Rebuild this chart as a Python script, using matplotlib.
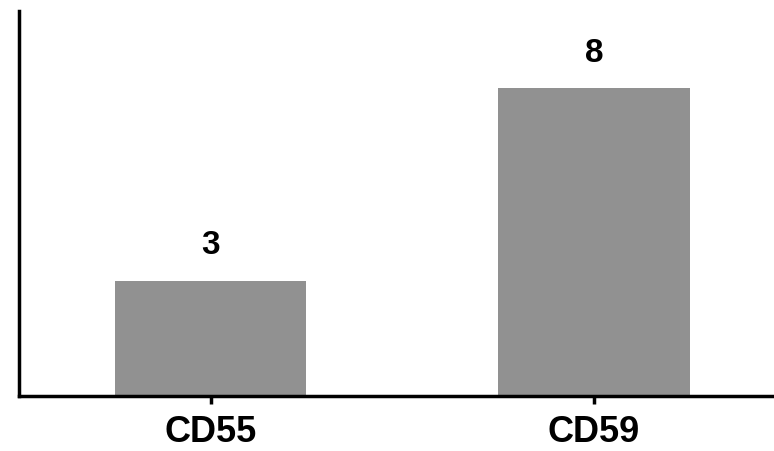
import matplotlib
matplotlib.use("Agg")
import matplotlib.pyplot as plt

# datos
categorias = ["CD55", "CD59"]
valores = [3, 8]

plt.rcParams['font.family'] = ['Liberation Sans', 'DejaVu Sans']

fig = plt.figure(figsize=(7.74, 4.51), dpi=100)
ax = fig.add_axes([19 / 774, 55 / 451, 755 / 774, 385 / 451])

x = list(range(len(categorias)))
ax.bar(x, valores, width=0.5, color="#919191", zorder=1)

# etiquetas encima de las barras
for xi, v in zip(x, valores):
    ax.annotate(str(v), (xi, v), xytext=(0, 14), textcoords="offset points",
                ha="center", va="bottom", fontsize=24, fontweight="bold")

ax.set_xlim(-0.5, 1.47)
ax.set_ylim(0, 10)
ax.set_xticks(x)
ax.set_xticklabels(categorias, fontsize=26, fontweight="bold")
ax.set_yticks([])
ax.tick_params(axis="x", direction="out", length=6, width=2.5, pad=8)

for s in ["top", "right"]:
    ax.spines[s].set_visible(False)
for s in ["left", "bottom"]:
    ax.spines[s].set_linewidth(2.5)

fig.savefig("out.png", dpi=100)
